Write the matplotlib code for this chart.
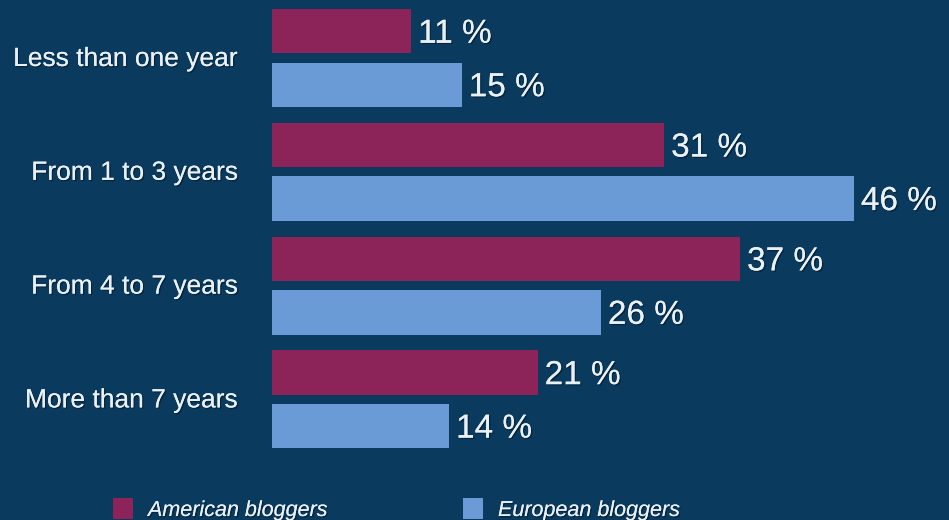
import matplotlib
matplotlib.use("Agg")
import matplotlib.pyplot as plt
import matplotlib.patheffects as pe
from matplotlib.patches import Rectangle
import numpy as np

categories = ["Less than one year", "From 1 to 3 years", "From 4 to 7 years", "More than 7 years"]
american = [11, 31, 37, 21]
european = [15, 46, 26, 14]
series_names = ["American bloggers", "European bloggers"]

BG = "#0b3a5f"
MAGENTA = "#8c2359"
BLUE = "#6b9bd6"
TEXT = "#e9f1f7"

W, H, DPI = 949, 520, 100
fig = plt.figure(figsize=(W / DPI, H / DPI), dpi=DPI, facecolor=BG)
plt.rcParams["font.family"] = ["Liberation Sans", "DejaVu Sans"]

# plot area: bars start at x=272 px and run to the right edge
ax = fig.add_axes([272 / W, 0, 1 - 272 / W, 1])
ax.set_facecolor(BG)
ax.patch.set_alpha(0)
px_per_unit = 12.65
ax.set_xlim(0, (W - 272) / px_per_unit)
spacing = 113.8
ax.set_ylim((H - 58) / spacing, -58 / spacing)
ax.axis("off")

y = np.arange(len(categories))
off = 0.235
h = 0.39
shadow = [pe.withSimplePatchShadow(offset=(1, -1), shadow_rgbFace="#03182a", alpha=0.6), pe.Normal()]

ax.barh(y - off, american, height=h, color=MAGENTA, edgecolor="none")
ax.barh(y + off, european, height=h, color=BLUE, edgecolor="none")

for yi, a, e in zip(y, american, european):
    ax.annotate(f"{a} %", (a, yi - off), xytext=(7, -3), textcoords="offset pixels",
                ha="left", va="center", fontsize=24, color=TEXT, path_effects=shadow)
    ax.annotate(f"{e} %", (e, yi + off), xytext=(7, -3), textcoords="offset pixels",
                ha="left", va="center", fontsize=24, color=TEXT, path_effects=shadow)

# category labels, right-aligned left of the bars
for yi, cat in zip(y, categories):
    ax.annotate(cat, (0, yi), xytext=(-34, -1), textcoords="offset pixels",
                ha="right", va="center", fontsize=19, color=TEXT, path_effects=shadow,
                annotation_clip=False)

# legend along the bottom edge
for x0, color, name in [(113, MAGENTA, series_names[0]), (463, BLUE, series_names[1])]:
    fig.patches.append(Rectangle((x0 / W, 1 - 519 / H), 20 / W, 21 / H,
                                 transform=fig.transFigure, facecolor=color, edgecolor="none"))
    fig.text((x0 + 35) / W, 1 - 516 / H, name, ha="left", va="baseline",
             fontsize=15.5, style="italic", color=TEXT, path_effects=shadow)

fig.savefig("out.png", dpi=DPI, facecolor=BG)
